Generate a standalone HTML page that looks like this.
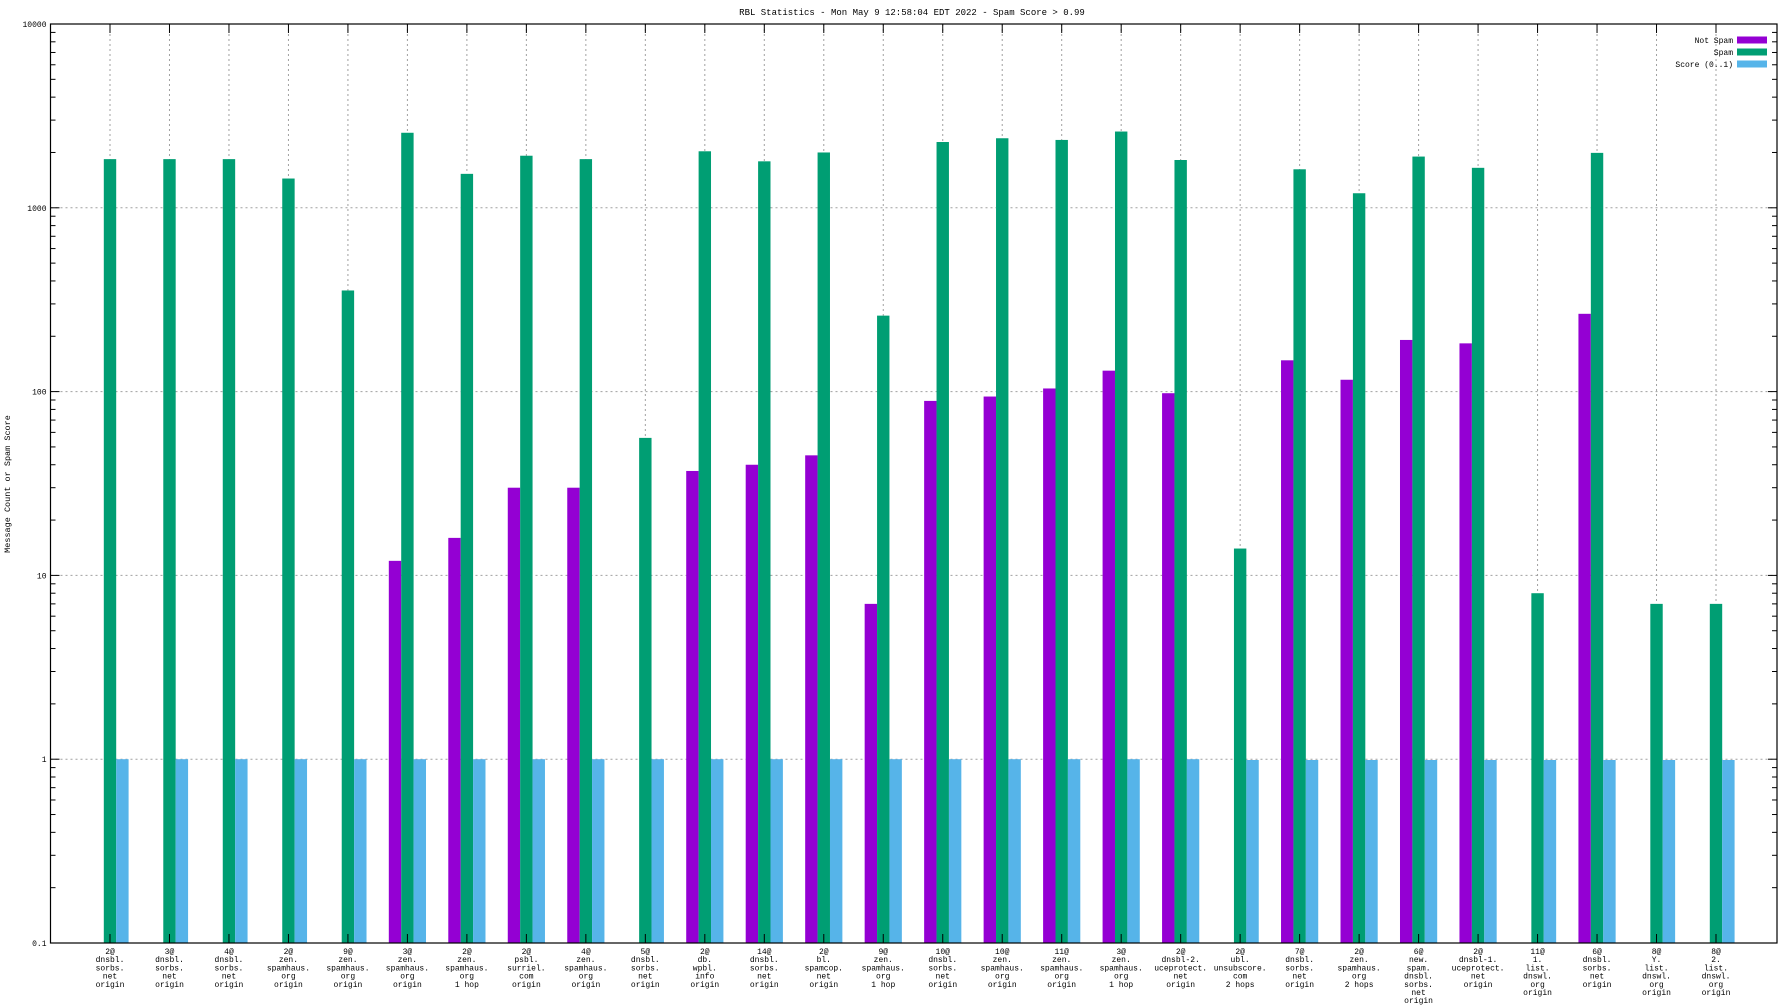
<!DOCTYPE html>
<html><head><meta charset="utf-8"><style>
html,body{margin:0;padding:0;background:#fff;}
svg{display:block;font-family:"Liberation Mono",monospace;}
</style></head><body>
<svg id="chart" width="1792" height="1008" viewBox="0 0 1792 1008">
<text x="912" y="15" font-size="9" text-anchor="middle">RBL Statistics - Mon May  9 12:58:04 EDT 2022 - Spam Score &gt; 0.99</text>
<text transform="translate(10,484) rotate(-90)" font-size="8.5" text-anchor="middle">Message Count or Spam Score</text>
<g id="grid"></g>
<g id="bars"></g>
<g id="axes"></g>
<g id="legend"></g>
</svg>
<script>
const categories = ["2@|dnsbl.|sorbs.|net|origin","3@|dnsbl.|sorbs.|net|origin","4@|dnsbl.|sorbs.|net|origin","2@|zen.|spamhaus.|org|origin","9@|zen.|spamhaus.|org|origin","3@|zen.|spamhaus.|org|origin","2@|zen.|spamhaus.|org|1 hop","2@|psbl.|surriel.|com|origin","4@|zen.|spamhaus.|org|origin","5@|dnsbl.|sorbs.|net|origin","2@|db.|wpbl.|info|origin","14@|dnsbl.|sorbs.|net|origin","2@|bl.|spamcop.|net|origin","9@|zen.|spamhaus.|org|1 hop","10@|dnsbl.|sorbs.|net|origin","10@|zen.|spamhaus.|org|origin","11@|zen.|spamhaus.|org|origin","3@|zen.|spamhaus.|org|1 hop","2@|dnsbl-2.|uceprotect.|net|origin","2@|ubl.|unsubscore.|com|2 hops","7@|dnsbl.|sorbs.|net|origin","2@|zen.|spamhaus.|org|2 hops","6@|new.|spam.|dnsbl.|sorbs.|net|origin","2@|dnsbl-1.|uceprotect.|net|origin","11@|1.|list.|dnswl.|org|origin","6@|dnsbl.|sorbs.|net|origin","8@|Y.|list.|dnswl.|org|origin","8@|2.|list.|dnswl.|org|origin"];
const notSpam = [0,0,0,0,0,12,16,30,30,0,37,40,45,7,89,94,104,130,98,0,148,116,191,183,0,265,0,0];
const spam = [1840,1840,1840,1443,355,2560,1530,1920,1840,56,2030,1790,2000,259,2280,2390,2340,2600,1820,14,1620,1200,1900,1650,8,1990,7,7];
const score = [1,1,1,1,1,1,1,1,1,1,1,1,1,1,1,1,1,1,1,0.99,0.99,0.99,0.99,0.99,0.99,0.99,0.99,0.99];
const yTicks = [0.1,1,10,100,1000,10000];
const yTickLabels = ["0.1","1","10","100","1000","10000"];
const legendLabels = ["Not Spam","Spam","Score (0..1)"];
const colors = ["#9400d3","#009e73","#56b4e9"];

const NS="http://www.w3.org/2000/svg";
const L=50.5,R=1777,T=24,B=943;
const x0=110, step=(1716-110)/27, bw=12.4;
function X(i){return x0+i*step;}
function Y(v){const lv=Math.log10(v);return B-(lv+1)/5*(B-T);}
function mk(tag,attrs,parent){const e=document.createElementNS(NS,tag);for(const k in attrs)e.setAttribute(k,attrs[k]);parent.appendChild(e);return e;}
const grid=document.getElementById('grid'),bars=document.getElementById('bars'),axes=document.getElementById('axes'),legend=document.getElementById('legend');

yTicks.forEach((v,k)=>{
  const y=Y(v);
  if(k>0&&k<yTicks.length-1){
    const g=mk('line',{x1:L,x2:R,y1:y,y2:y,stroke:'#a0a0a0','stroke-width':1,'stroke-dasharray':'2,3'},grid);
    
    
  }
  const t=mk('text',{x:L-4,y:y+3,'font-size':8,'text-anchor':'end'},axes);
  t.textContent=yTickLabels[k];
  
  
  [L,R].forEach((xx,s)=>{
    const tk=mk('line',{x1:xx,x2:s?xx-9:xx+9,y1:y,y2:y,stroke:'#000','stroke-width':1},axes);
    
    
  });
  if(k<yTicks.length-1){
    for(let m=2;m<10;m++){
      const ym=Y(v*m);
      [L,R].forEach((xx,s)=>{
        const tk=mk('line',{x1:xx,x2:s?xx-5:xx+5,y1:ym,y2:ym,stroke:'#000','stroke-width':1},axes);
        
        
      });
    }
  }
});

categories.forEach((c,i)=>{
  const x=X(i);
  const g=mk('line',{x1:x,x2:x,y1:T,y2:B,stroke:'#a0a0a0','stroke-width':1,'stroke-dasharray':'2,3'},grid);
  
  
  [[B,B-9],[T,T+9]].forEach(p=>{
    const tk=mk('line',{x1:x,x2:x,y1:p[0],y2:p[1],stroke:'#000','stroke-width':1},axes);
    
    
  });
  const lines=c.split('|');
  const t=mk('text',{x:x,y:B+11,'font-size':8,'text-anchor':'middle'},axes);
  
  
  lines.forEach((ln,j)=>{const s=mk('tspan',{x:x,dy:j?8.2:0},t);s.textContent=ln;});
  const series=[notSpam,spam,score];
  series.forEach((arr,s)=>{
    const v=arr[i]; if(!v) return;
    const bx=x-bw/2+(s-1)*bw;
    const y=Y(v);
    const r=mk('rect',{x:bx,y:y,width:bw,height:B-y,fill:colors[s]},bars);
    
    
  });
});

const frame=mk('rect',{x:L,y:T,width:R-L,height:B-T,fill:'none',stroke:'#000','stroke-width':1.2},axes);



legendLabels.forEach((lab,k)=>{
  const y=40+k*12;
  const t=mk('text',{x:1733,y:y+3,'font-size':8,'text-anchor':'end'},legend);
  t.textContent=lab;
  
  
  const r=mk('rect',{x:1737,y:y-3.5,width:30,height:7,fill:colors[k]},legend);
  
  
});
</script>
</body></html>
